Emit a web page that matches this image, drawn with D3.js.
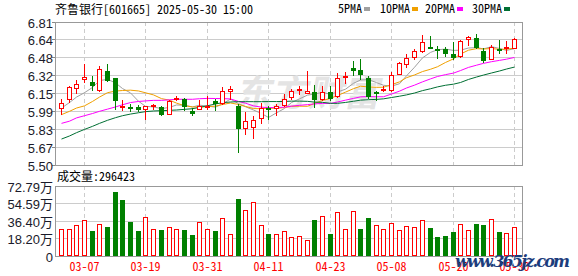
<!DOCTYPE html>
<html>
<head>
<meta charset="utf-8">
<script src="https://cdn.jsdelivr.net/npm/d3@7"></script>
<style>
  body { margin: 0; background: #fff; }
  svg { display: block; }
</style>
</head>
<body>
<div id="chart"></div>
<script>
// 日付 (60 trading days)
const dates = ["03-04","03-05","03-06","03-07","03-10","03-11","03-12","03-13","03-14","03-17",
  "03-18","03-19","03-20","03-21","03-24","03-25","03-26","03-27","03-28","03-31",
  "04-01","04-02","04-03","04-07","04-08","04-09","04-10","04-11","04-14","04-15",
  "04-16","04-17","04-18","04-21","04-22","04-23","04-24","04-25","04-28","04-29",
  "04-30","05-06","05-07","05-08","05-09","05-12","05-13","05-14","05-15","05-16",
  "05-19","05-20","05-21","05-22","05-23","05-26","05-27","05-28","05-29","05-30"];
const xLabels = ["03-07","03-19","03-31","04-11","04-23","05-08","05-20","05-30"];

const open  = [6.01,6.09,6.19,6.28,6.26,6.18,6.36,6.29,6.03,6.03, 6.03,6.00,6.03,6.03,5.96,6.09,6.10,5.99,6.00,6.03,
               6.08,6.06,6.17,6.04,5.83,5.84,5.92,6.02,6.01,6.04, 6.11,6.18,6.15,6.17,6.09,6.17,6.12,6.29,6.39,6.37,
               6.29,6.17,6.18,6.18,6.32,6.41,6.48,6.53,6.58,6.56, 6.56,6.51,6.49,6.64,6.66,6.54,6.46,6.56,6.57,6.56];
const high  = [6.10,6.22,6.28,6.42,6.31,6.40,6.42,6.29,6.09,6.06, 6.05,6.04,6.06,6.04,6.09,6.13,6.11,6.02,6.09,6.13,
               6.10,6.21,6.22,6.06,5.98,5.95,6.07,6.04,6.06,6.15, 6.19,6.22,6.36,6.23,6.22,6.22,6.34,6.35,6.45,6.47,
               6.31,6.18,6.22,6.35,6.44,6.51,6.56,6.69,6.68,6.59, 6.58,6.62,6.64,6.68,6.70,6.57,6.60,6.64,6.63,6.66];
const low   = [5.96,6.07,6.15,6.25,6.18,6.17,6.26,6.00,5.99,5.98, 5.98,5.91,6.00,5.95,5.96,6.08,5.99,5.95,6.00,6.00,
               5.99,6.05,6.09,5.61,5.77,5.74,5.87,5.91,5.95,6.03, 6.09,6.14,6.15,6.02,6.08,6.08,6.11,6.24,6.31,6.28,
               6.10,6.08,6.17,6.17,6.32,6.39,6.46,6.52,6.56,6.47, 6.49,6.46,6.48,6.59,6.56,6.43,6.46,6.51,6.51,6.56];
const close = [6.07,6.21,6.24,6.30,6.22,6.38,6.27,6.08,6.04,6.02, 6.00,6.04,6.05,5.96,6.08,6.11,6.03,5.97,6.04,6.04,
               6.06,6.18,6.19,5.83,5.90,5.91,6.02,6.01,6.04,6.10, 6.18,6.19,6.18,6.09,6.17,6.10,6.29,6.31,6.36,6.32,
               6.12,6.15,6.19,6.32,6.43,6.48,6.54,6.62,6.57,6.55, 6.51,6.48,6.63,6.67,6.57,6.45,6.58,6.55,6.58,6.65];

const ma5  = [6.02,6.07,6.12,6.16,6.208,6.27,6.282,6.25,6.198,6.158, 6.082,6.036,6.03,6.014,6.026,6.048,6.046,6.03,6.046,6.038,
              6.028,6.058,6.102,6.06,6.032,6.002,5.97,5.934,5.976,6.016, 6.07,6.104,6.138,6.148,6.162,6.146,6.166,6.192,6.246,6.276,
              6.28,6.252,6.228,6.22,6.242,6.314,6.392,6.478,6.528,6.552, 6.558,6.546,6.548,6.568,6.572,6.56,6.58,6.564,6.546,6.562];
const ma10 = [5.96,5.99,6.02,6.04,6.08,6.12,6.16,6.175,6.18,6.183, 6.176,6.159,6.14,6.106,6.092,6.065,6.041,6.03,6.03,6.032,
              6.038,6.052,6.066,6.053,6.035,6.015,6.014,6.018,6.018,6.024, 6.036,6.037,6.036,6.062,6.089,6.108,6.135,6.165,6.197,6.219,
              6.213,6.209,6.21,6.233,6.259,6.297,6.322,6.353,6.374,6.397, 6.436,6.469,6.513,6.548,6.562,6.559,6.563,6.556,6.557,6.567];
const ma20 = [5.88,5.90,5.93,5.95,5.97,5.99,6.01,6.03,6.05,6.07, 6.08,6.085,6.09,6.09,6.095,6.10,6.10,6.10,6.105,6.108,
              6.107,6.106,6.103,6.080,6.064,6.04,6.028,6.024,6.024,6.028, 6.037,6.045,6.051,6.058,6.062,6.062,6.075,6.092,6.108,6.122,
              6.125,6.123,6.123,6.148,6.174,6.203,6.229,6.259,6.286,6.308, 6.325,6.339,6.362,6.391,6.411,6.428,6.443,6.455,6.466,6.482];
const ma30 = [5.737,5.765,5.795,5.825,5.853,5.88,5.908,5.932,5.95,5.965, 5.977,5.987,5.993,5.996,5.999,6.002,6.008,6.014,6.026,6.041,
              6.057,6.069,6.075,6.078,6.078,6.078,6.078,6.079,6.079,6.080, 6.083,6.083,6.081,6.074,6.072,6.063,6.063,6.071,6.082,6.092,
              6.096,6.099,6.104,6.116,6.128,6.14,6.157,6.179,6.196,6.213, 6.228,6.238,6.253,6.281,6.303,6.321,6.34,6.358,6.376,6.394];

// 成交量 (万)
const volume = [27.7,27.7,31.9,37.1,26.0,33.0,30.1,66.5,58.2,35.3, 26.0,40.2,27.7,27.0,29.8,27.7,27.0,21.8,35.0,27.7,
                26.0,39.2,22.9,59.3,47.8,55.8,32.2,22.9,22.9,25.7, 19.4,20.4,16.3,37.4,41.6,22.9,45.4,27.7,46.4,28.0,
                39.5,32.2,27.7,34.3,26.7,30.8,29.8,37.1,29.1,19.7, 20.8,24.9,32.9,26.7,33.3,32.2,38.1,24.9,23.6,29.64];
const volUp  = [1,1,1,1,0,1,0,0,0,0, 0,1,1,0,1,1,0,0,1,1, 0,1,1,0,1,1,1,0,1,1,
                1,1,1,0,1,0,1,1,1,0, 0,1,1,1,1,1,1,1,0,0, 0,0,1,1,0,0,1,0,1,1];

const priceTicks = ["6.81","6.64","6.48","6.32","6.15","5.99","5.83","5.67","5.50"];
const volTicks = ["72.79万","54.59万","36.40万","18.20万","0"];

const width = 578, height = 276;
const left = 55, right = 522;
const pTop = 21.5, pBottom = 165;
const vTop = 186, vBottom = 255.5;
const red = "#ff0000", green = "#008000";
const maColors = ["#a0a0a0", "#f0a000", "#ff00ff", "#006f33"];
const monoFont = "'Noto Sans Mono CJK SC','Noto Sans CJK SC',monospace";

const svg = d3.select("#chart").append("svg").attr("width", width).attr("height", height);

// スケール
const x = d3.scaleBand().domain(dates).range([57.2, 517.8]).paddingInner(0).paddingOuter(0);
const cx = d => Math.round(x(d) + x.bandwidth() / 2);
const y = d3.scaleLinear().domain([5.50, 6.81]).range([pBottom, pTop]);
const yv = d3.scaleLinear().domain([0, 72.79]).range([vBottom, vTop]);

// header
const head = svg.append("text").attr("x", 55).attr("y", 14)
  .attr("font-family", monoFont).attr("font-size", 12).attr("fill", "#000")
  .text("齐鲁银行[601665] 2025-05-30 15:00");

// legend
const legend = [["5PMA", 338], ["10PMA", 380], ["20PMA", 425], ["30PMA", 472]];
legend.forEach((l, i) => {
  const t = svg.append("text").attr("x", l[1]).attr("y", 13)
    .attr("font-family", monoFont).attr("font-size", 12).attr("fill", "#000").text(l[0]);
  svg.append("rect").attr("x", l[1] + l[0].length * 6 + 2).attr("y", 7).attr("width", 6).attr("height", 4)
    .attr("fill", maColors[i]);
});

// グリッド
const gridPrice = svg.append("g").attr("shape-rendering", "crispEdges");
priceTicks.forEach((t, k) => {
  const v = 6.81 - k * (6.81 - 5.50) / 8;
  const yy = Math.round(y(v)) + 0.5;
  gridPrice.append("line").attr("x1", left).attr("x2", right).attr("y1", yy).attr("y2", yy)
    .attr("stroke", "#cccccc");
  gridPrice.append("line").attr("x1", left - 3).attr("x2", left).attr("y1", yy).attr("y2", yy)
    .attr("stroke", "#888");
  svg.append("text").attr("x", 53).attr("y", yy + 5).attr("text-anchor", "end")
    .attr("font-family", "'Liberation Sans',Arial,sans-serif").attr("font-size", 13).attr("fill", "#1a1a2a")
    .text(t);
});
const volGrid = svg.append("g").attr("shape-rendering", "crispEdges");
volTicks.forEach((t, k) => {
  const v = 72.79 - k * 72.79 / 4;
  const yy = Math.round(yv(v)) + 0.5;
  volGrid.append("line").attr("x1", left).attr("x2", right).attr("y1", yy).attr("y2", yy)
    .attr("stroke", "#cccccc");
  svg.append("text").attr("x", 53).attr("y", yy + 5).attr("text-anchor", "end")
    .attr("font-family", "'Liberation Sans','Noto Sans CJK SC',sans-serif").attr("font-size", 13).attr("fill", "#1a1a2a")
    .text(t);
});
xLabels.forEach(d => {
  const xx = cx(d) + 0.5;
  [[pTop, pBottom], [vTop, vBottom]].forEach(r => {
    svg.append("line").attr("x1", xx).attr("x2", xx).attr("y1", r[0]).attr("y2", r[1])
      .attr("stroke", "#cccccc").attr("stroke-dasharray", "4,3").attr("shape-rendering", "crispEdges");
  });
  svg.append("text").attr("x", xx).attr("y", 271).attr("text-anchor", "middle")
    .attr("font-family", monoFont).attr("font-size", 12).attr("fill", red).text(d);
});

// watermark
svg.append("text").attr("x", 308).attr("y", 106).attr("text-anchor", "middle")
  .attr("font-family", "'Noto Sans CJK SC',sans-serif").attr("font-weight", "bold")
  .attr("font-size", 36).attr("fill", "#e4e4e4").attr("transform", "skewX(-12) translate(22,0)")
  .text("东方财富");

// MA lines
const line = d3.line().x((v, i) => cx(dates[i]) + 0.5).y(v => y(v));
[ma5, ma10, ma20, ma30].forEach((m, i) => {
  svg.append("path").datum(m).attr("fill", "none").attr("stroke", maColors[i])
    .attr("stroke-width", 1).attr("d", line);
});

// ローソク足
const candles = svg.append("g").attr("shape-rendering", "crispEdges");
dates.forEach((d, i) => {
  const c = cx(d);
  const up = close[i] >= open[i];
  const col = up ? red : green;
  const top = Math.round(y(Math.max(open[i], close[i])));
  const bot = Math.max(Math.round(y(Math.min(open[i], close[i]))), top + 2);
  const hi = Math.round(y(high[i])), lo = Math.round(y(low[i]));
  if (up) {
    candles.append("line").attr("x1", c + 0.5).attr("x2", c + 0.5).attr("y1", hi).attr("y2", top).attr("stroke", col);
    candles.append("line").attr("x1", c + 0.5).attr("x2", c + 0.5).attr("y1", bot).attr("y2", lo).attr("stroke", col);
    candles.append("rect").attr("x", c - 1.5).attr("y", top + 0.5).attr("width", 4).attr("height", bot - top - 1)
      .attr("fill", "#fff").attr("stroke", col);
  } else {
    candles.append("line").attr("x1", c + 0.5).attr("x2", c + 0.5).attr("y1", hi).attr("y2", lo).attr("stroke", col);
    candles.append("rect").attr("x", c - 2).attr("y", top).attr("width", 5).attr("height", bot - top)
      .attr("fill", col);
  }
});

// 成交量
const vols = svg.append("g").attr("shape-rendering", "crispEdges");
dates.forEach((d, i) => {
  const c = cx(d);
  const top = Math.round(yv(volume[i]));
  const bot = Math.round(vBottom);
  if (volUp[i]) {
    vols.append("rect").attr("x", c - 1.5).attr("y", top + 0.5).attr("width", 4).attr("height", bot - top - 1)
      .attr("fill", "#fff").attr("stroke", red);
  } else {
    vols.append("rect").attr("x", c - 2).attr("y", top).attr("width", 5).attr("height", bot - top).attr("fill", green);
  }
});

// frames
[[pTop, pBottom], [vTop, vBottom]].forEach(r => {
  svg.append("rect").attr("x", left + 0.5).attr("y", Math.round(r[0]) + 0.5)
    .attr("width", right - left).attr("height", Math.round(r[1]) - Math.round(r[0]))
    .attr("fill", "none").attr("stroke", "#999999").attr("shape-rendering", "crispEdges");
});

svg.append("text").attr("x", 57).attr("y", 181)
  .attr("font-family", monoFont).attr("font-size", 12).attr("fill", "#000")
  .text("成交量:296423");

// site mark
svg.append("text").attr("x", 455).attr("y", 267).attr("textLength", 115)
  .attr("font-family", "'DejaVu Serif',serif").attr("font-weight", "bold").attr("font-style", "italic")
  .attr("font-size", 16).attr("fill", "#1c3c7c")
  .text("www.365jz.com");
</script>
</body>
</html>
